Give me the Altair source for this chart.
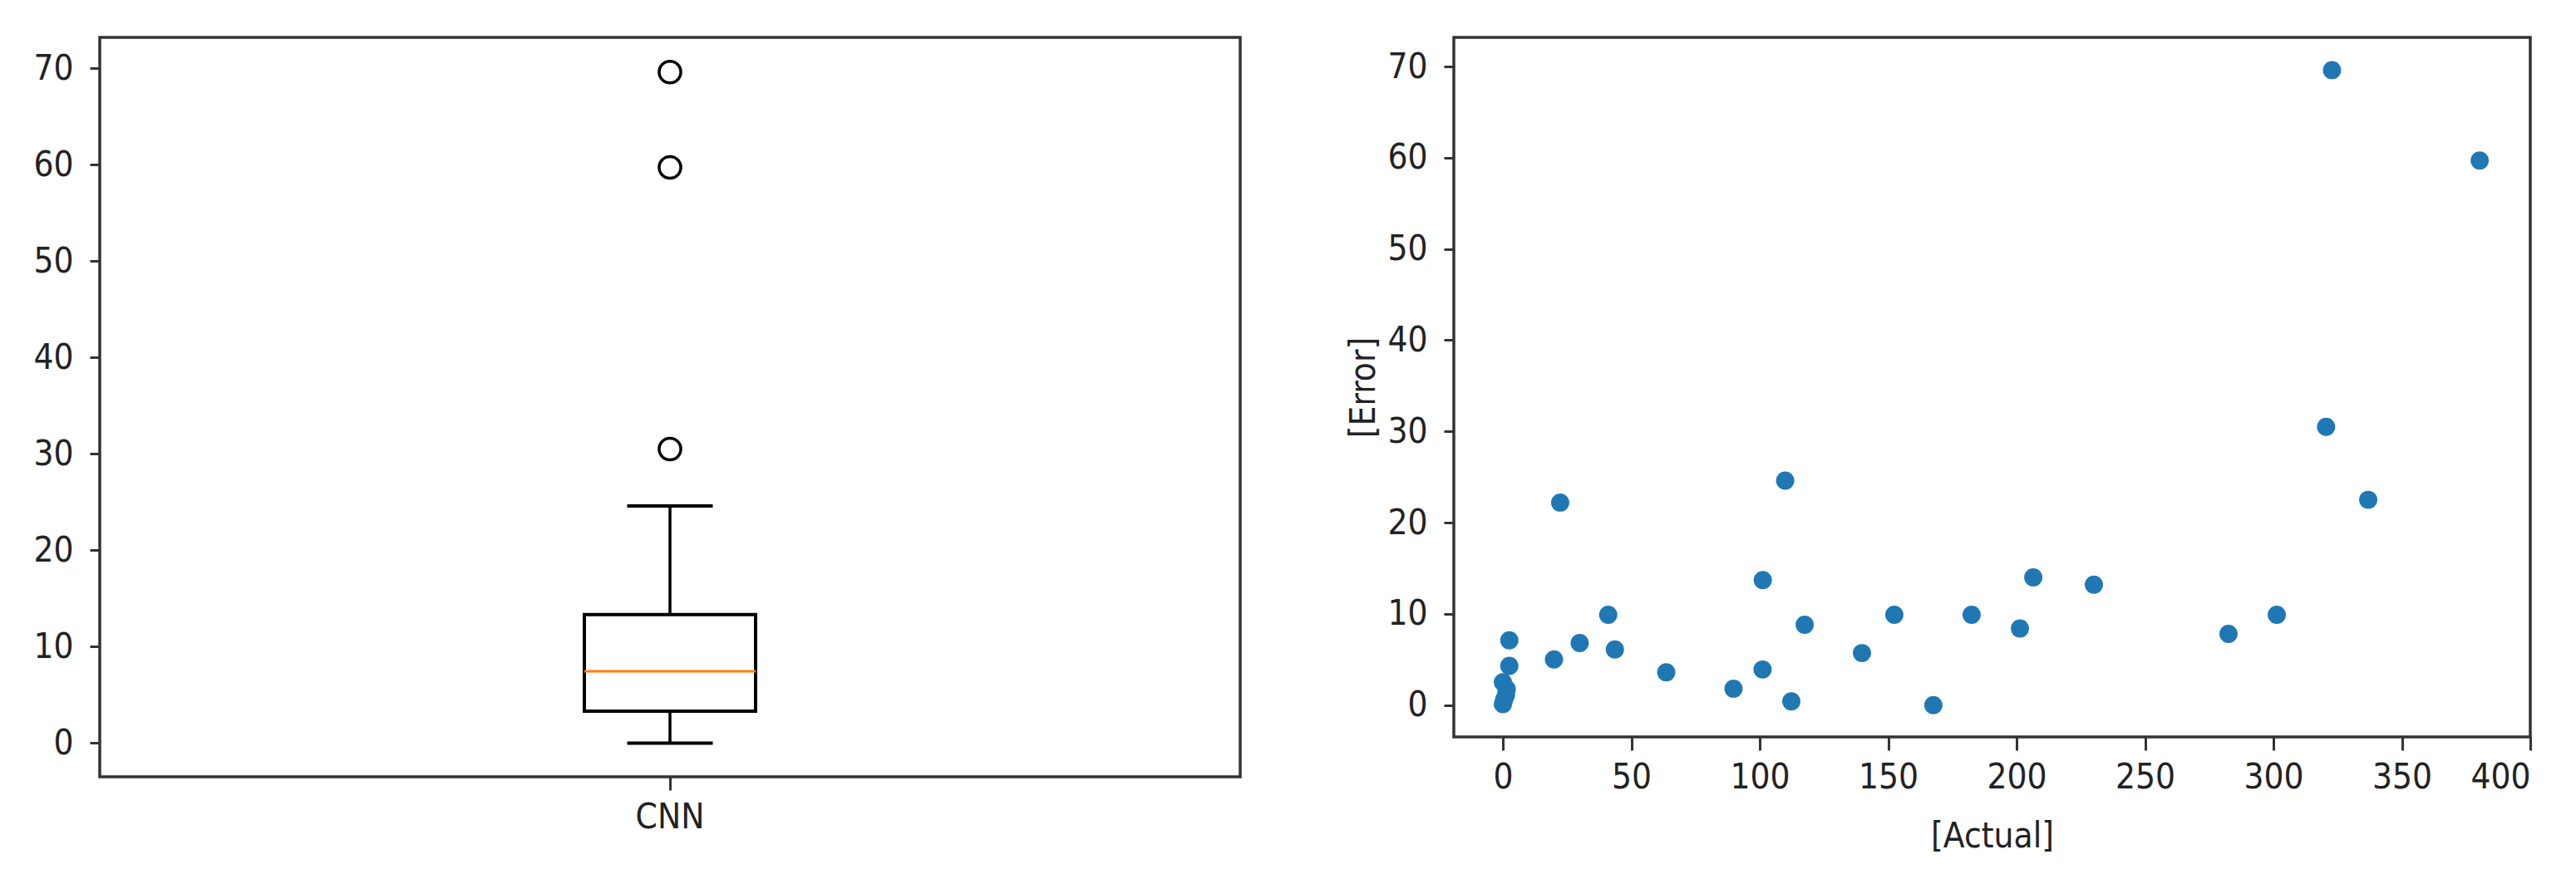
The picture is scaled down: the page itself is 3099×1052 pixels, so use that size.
import altair as alt
import pandas as pd

# Data
model_name = "CNN"
actual = [322.8, 380.3, 320.5, 336.9, 109.9, 22.3, 101.2, 206.5, 230.1, 41.0,
          152.4, 182.5, 301.3, 201.3, 117.5, 282.5, 2.5, 29.9, 43.6, 19.9,
          139.8, 2.5, 63.6, 101.1, 89.8, 112.3, 167.6, 0.0, 1.5, 1.2, 0.0, 0.5]
error = [69.6, 59.7, 30.5, 22.5, 24.6, 22.2, 13.7, 14.0, 13.2, 9.9,
         9.9, 9.9, 9.9, 8.4, 8.8, 7.8, 7.1, 6.8, 6.1, 5.0,
         5.7, 4.3, 3.6, 3.9, 1.8, 0.4, 0.0, 2.5, 1.75, 1.1, 0.1, 0.6]
y_ticks = [0, 10, 20, 30, 40, 50, 60, 70]
x_ticks = [0, 50, 100, 150, 200, 250, 300, 350, 400]

box_df = pd.DataFrame({"model": [model_name] * len(error), "error": error})
sc_df = pd.DataFrame({"actual": actual, "error": error})

FONT = "DejaVu Sans Condensed, Liberation Sans Narrow, DejaVu Sans"
y_scale = alt.Scale(domain=[-3.49, 73.19], nice=False, zero=False)

box = alt.Chart(box_df).mark_boxplot(
    extent=1.5,
    size=206,
    box={"fill": "white", "stroke": "black", "strokeWidth": 4, "opacity": 1},
    median={"color": "#ff7f0e", "thickness": 3, "opacity": 1},
    rule={"color": "black", "strokeWidth": 3.5, "opacity": 1},
    ticks={"color": "black", "size": 103, "thickness": 4, "opacity": 1},
    outliers={"filled": False, "stroke": "black", "color": "black",
              "size": 680, "strokeWidth": 3.5, "opacity": 1},
).encode(
    x=alt.X("model:N", title=None, axis=alt.Axis(labelAngle=0)),
    y=alt.Y("error:Q", scale=y_scale, axis=alt.Axis(values=y_ticks, title=None)),
).properties(width=1372, height=890)

scatter = alt.Chart(sc_df).mark_circle(size=480, color="#1f77b4", opacity=1).encode(
    x=alt.X("actual:Q", scale=alt.Scale(domain=[-19.1, 400], nice=False, zero=False),
            axis=alt.Axis(values=x_ticks, title="[Actual]", titlePadding=30)),
    y=alt.Y("error:Q", scale=y_scale,
            axis=alt.Axis(values=y_ticks, title="[Error]", titlePadding=6)),
).properties(width=1295, height=842)

chart = alt.hconcat(box, scatter, spacing=124).properties(
    padding={"left": 30, "top": 35, "right": 5, "bottom": 5}
).configure_view(
    stroke="#333333", strokeWidth=3.5
).configure_axis(
    domain=False, grid=False, tickColor="#333333", tickWidth=3,
    labelFont=FONT, labelFontSize=42, labelColor="#222222",
    titleFont=FONT, titleFontSize=42, titleFontWeight="normal", titleColor="#222222",
).configure_axisX(
    tickSize=16, labelPadding=12, titlePadding=22
).configure_axisY(
    tickSize=12, labelPadding=20, titlePadding=22
)

chart.save("out.html", embed_options={"renderer": "svg", "actions": False})
